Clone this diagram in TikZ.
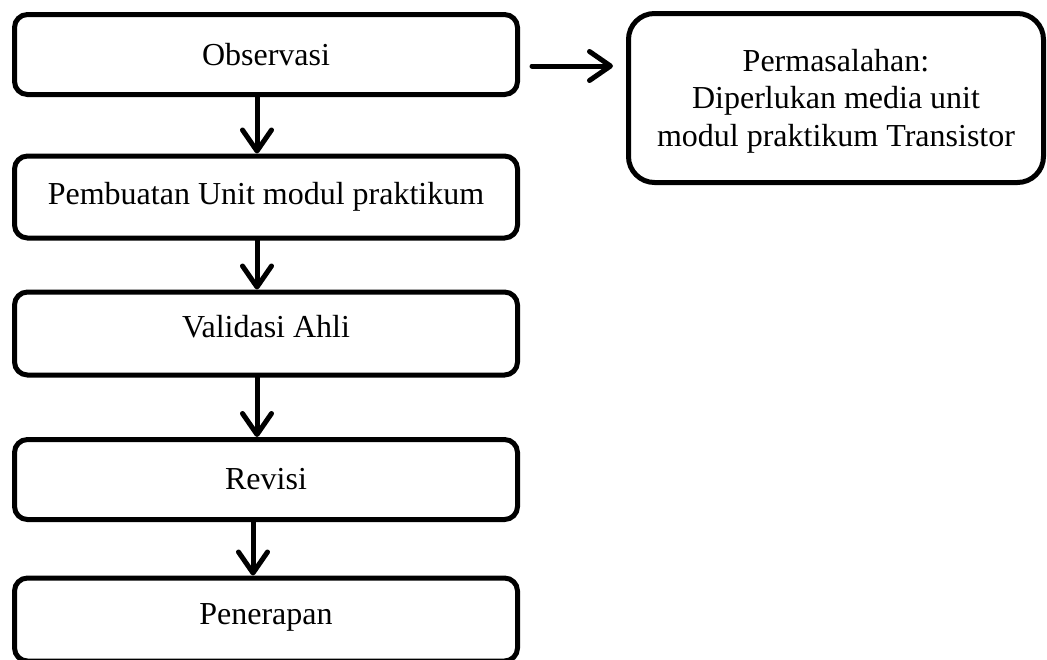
\documentclass[tikz,border=0pt]{standalone}
\usepackage{fontspec}
\setmainfont{Liberation Serif}
\usetikzlibrary{arrows.meta}
\begin{document}
\begin{tikzpicture}[x=1pt,y=-1pt,
  stepbox/.style={draw=black, line width=5pt, rounded corners=13pt,
    minimum width=503pt, inner sep=0pt, anchor=center,
    font=\fontsize{32}{37.5}\selectfont},
  probbox/.style={draw=black, line width=5pt, rounded corners=26pt,
    minimum width=415pt, minimum height=169pt, inner sep=0pt, anchor=center,
    align=center, font=\fontsize{32}{37.5}\selectfont},
  flow/.style={line width=5pt, line cap=round,
    -{Straight Barb[length=21pt, width=29pt, line cap=round, line join=round]}}
]
\useasboundingbox (0,0) rectangle (1047,659);
\node[stepbox, minimum height=80pt] (b1) at (266,54.5) {Observasi};
\node[stepbox, minimum height=82pt] (b2) at (266,197) {Pembuatan Unit modul praktikum};
\node[stepbox, minimum height=83pt, text height=22pt, text depth=15pt] (b3) at (266,333.5) {Validasi Ahli};
\node[stepbox, minimum height=80pt] (b4) at (266,479.5) {Revisi};
\node[stepbox, minimum height=83pt, text height=22pt, text depth=13pt] (b5) at (266,619.5) {Penerapan};
\node[probbox] (p) at (836,98) {\rule{0pt}{28pt}Permasalahan:\\Diperlukan media unit\\modul praktikum Transistor};
\coordinate (ra1) at (532,66);
\coordinate (ra2) at (613,66);
\draw[flow] ([xshift=-9pt]b1.south) -- ([xshift=-9pt]b2.north);
\draw[flow] ([xshift=-9pt]b2.south) -- ([xshift=-9pt]b3.north);
\draw[flow] ([xshift=-9pt]b3.south) -- ([xshift=-9pt]b4.north);
\draw[flow] ([xshift=-13pt]b4.south) -- ([xshift=-13pt]b5.north);
\draw[flow] (ra1) -- (ra2);
\end{tikzpicture}
\end{document}
